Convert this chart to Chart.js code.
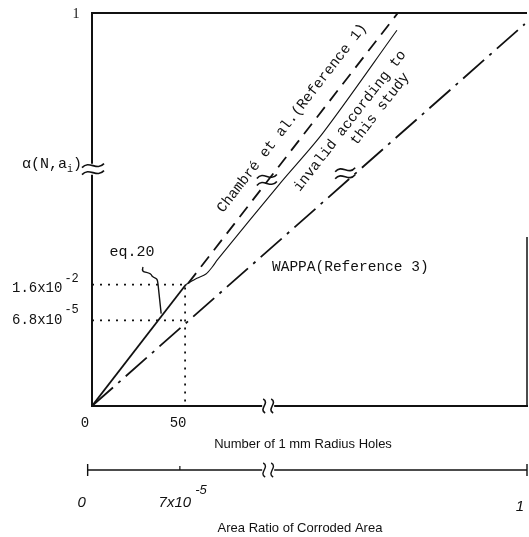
<!DOCTYPE html>
<html><head><meta charset="utf-8">
<script src="https://cdn.jsdelivr.net/npm/chart.js@4"></script>
<style>html,body{margin:0;padding:0;background:#fff}canvas{display:block}</style>
</head><body>
<canvas id="c" width="529" height="537"></canvas>
<script>
// Schematic (broken, not-to-scale) axes: each drawn axis runs 0..100.
const eq20X = [0, 21.6];
const eq20Y = [0, 30.9];
const studyX = [21.6, 24.1, 26.2, 27.6, 28.9, 43.2, 53.1, 70.1];
const studyY = [30.9, 32.5, 33.6, 35.3, 37.3, 56.6, 69.5, 95.6];
const chambreX = [22.1, 70.3];
const chambreY = [31.2, 100];
const wappaX = [0, 99.5];
const wappaY = [0, 97.2];
const guideX = 21.4;        // N = 50 holes
const guideYHigh = 30.9;    // 1.6x10^-2
const guideYLow = 21.8;     // 6.8x10^-5
const xTickPos = [0, 21.4];
const xTickLabels = ['0', '50'];
const yTickPos = [30.9, 21.8];
const yTickMant = ['1.6x10', '6.8x10'];
const yTickExp = ['-2', '-5'];
const ratioTickPos = [-1, 20.2, 100];
const ratioTickMant = ['0', '7x10', '1'];
const ratioTickExp = ['', '-5', ''];
const xBreak = 40.5;
const yBreak = 60.4;

const pts = (xs, ys) => xs.map((v, i) => ({x: v, y: ys[i]}));
const INK = '#111';

const deco = {
  id: 'deco',
  afterDatasetsDraw(chart) {
    const {ctx, scales: {x, y}} = chart;
    const X = v => x.getPixelForValue(v), Y = v => y.getPixelForValue(v);
    const seg = (a, b, c, d, w) => { ctx.lineWidth = w; ctx.beginPath(); ctx.moveTo(a, b); ctx.lineTo(c, d); ctx.stroke(); };
    const tilde = (cx, cy, w) => { ctx.beginPath(); ctx.moveTo(cx - w, cy + 2); ctx.bezierCurveTo(cx - w / 3, cy - 6, cx + w / 3, cy + 6, cx + w, cy - 2); ctx.stroke(); };
    const sCurve = (cx, cy, h) => { ctx.beginPath(); ctx.moveTo(cx - 1, cy - h); ctx.bezierCurveTo(cx + 6, cy - h / 2, cx - 6, cy + h / 2, cx + 1, cy + h); ctx.stroke(); };
    ctx.save();
    ctx.strokeStyle = INK; ctx.fillStyle = INK;
    const x0 = X(0), x1 = X(100), y0 = Y(0), y1 = Y(100);
    // frame
    seg(x0, y0 + 1, x0, Y(yBreak) + 6, 2);
    seg(x0, Y(yBreak) - 5, x0, y1 - 1, 2);
    seg(x0 - 1, y1, x1, y1, 2);
    seg(x0 - 1, y0, X(xBreak) - 6, y0, 2);
    seg(X(xBreak) + 6, y0, x1 + 1, y0, 2);
    seg(x1, y0, x1, Y(43), 1.5);
    ctx.lineWidth = 1.6;
    tilde(x0 + 1, Y(yBreak) - 3, 11); tilde(x0 + 1, Y(yBreak) + 4, 11);
    sCurve(X(xBreak) - 4, y0, 7); sCurve(X(xBreak) + 4, y0, 7);
    // break marks on the curves
    tilde(X(40.2), Y(57.4) - 4, 10); tilde(X(40.2), Y(57.4) + 3, 10);
    tilde(X(58.2), Y(59.1) - 4, 10); tilde(X(58.2), Y(59.1) + 3, 10);
    // eq.20 leader
    ctx.lineWidth = 1.4;
    ctx.beginPath();
    ctx.moveTo(143, 267);
    ctx.bezierCurveTo(140, 275, 150, 270, 152, 276);
    ctx.bezierCurveTo(156, 280, 157, 276, 158, 284);
    ctx.lineTo(X(15.9), Y(23.5));
    ctx.stroke();

    // second (area ratio) axis
    const ry = 470;
    seg(X(-1), ry, X(xBreak) - 6, ry, 1.6);
    seg(X(xBreak) + 6, ry, X(100), ry, 1.6);
    seg(X(-1), ry - 6, X(-1), ry + 6, 1.4);
    seg(X(100), ry - 6, X(100), ry + 6, 1.4);
    seg(X(20.2), ry - 4, X(20.2), ry, 1.2);
    ctx.lineWidth = 1.4;
    sCurve(X(xBreak) - 4, ry, 7); sCurve(X(xBreak) + 4, ry, 7);

    // texts
    ctx.textBaseline = 'middle';
    ctx.textAlign = 'center';
    ctx.font = '14px "Liberation Serif"';
    ctx.fillText('1', 76, 14);
    ctx.font = '14px "Liberation Mono"';
    xTickPos.forEach((v, i) => ctx.fillText(xTickLabels[i], X(v) - 7, 423));
    ctx.textAlign = 'left';
    yTickPos.forEach((v, i) => {
      const ty = Y(v) + (i === 0 ? 4 : 0);
      ctx.font = '14px "Liberation Mono"';
      ctx.fillText(yTickMant[i], 12, ty);
      const w = ctx.measureText(yTickMant[i]).width;
      ctx.font = '12px "Liberation Mono"';
      ctx.fillText(yTickExp[i], 12 + w + 2, ty - 10);
    });
    // alpha label at the y break
    ctx.font = '15px "Liberation Mono"';
    ctx.fillText('α(N,a', 22, 164);
    let w = ctx.measureText('α(N,a').width;
    ctx.font = '10px "Liberation Mono"';
    ctx.fillText('i', 22 + w, 169);
    ctx.font = '15px "Liberation Mono"';
    ctx.fillText(')', 22 + w + 6, 164);
    // eq.20
    ctx.textAlign = 'center';
    ctx.font = '15px "Liberation Mono"';
    ctx.fillText('eq.20', 132, 252);
    // WAPPA
    ctx.font = '14.5px "Liberation Mono"';
    ctx.textAlign = 'left';
    ctx.fillText('WAPPA(Reference 3)', 272, 267);
    // rotated labels
    const ang = Math.atan2(Y(chambreY[1]) - Y(chambreY[0]), X(chambreX[1]) - X(chambreX[0]));
    const rot = (t, cx, cy) => { ctx.save(); ctx.translate(cx, cy); ctx.rotate(ang); ctx.textAlign = 'center'; ctx.fillText(t, 0, 0); ctx.restore(); };
    rot('Chambré et al.(Reference 1)', 292, 118);
    rot('invalid according to', 350, 121);
    rot('this study', 380, 109);
    // axis titles
    ctx.textAlign = 'center';
    ctx.font = '13px "Liberation Sans"';
    ctx.fillText('Number of 1 mm Radius Holes', 303, 444);
    ctx.fillText('Area Ratio of Corroded Area', 300, 528);
    // ratio axis tick labels
    ctx.font = 'italic 15px "Liberation Sans"';
    const rOff = [-6, -5, -7];
    const rY = [503, 503, 507];
    ratioTickPos.forEach((v, i) => {
      ctx.textAlign = 'center';
      ctx.font = 'italic 15px "Liberation Sans"';
      const cx = X(v) + rOff[i];
      ctx.fillText(ratioTickMant[i], cx, rY[i]);
      if (ratioTickExp[i]) {
        const tw = ctx.measureText(ratioTickMant[i]).width;
        ctx.textAlign = 'left';
        ctx.font = 'italic 13px "Liberation Sans"';
        ctx.fillText(ratioTickExp[i], cx + tw / 2 + 4, rY[i] - 13);
      }
    });
    ctx.restore();
  }
};

const line = (data, extra) => Object.assign({
  data, showLine: true, pointRadius: 0, borderColor: INK, fill: false, tension: 0
}, extra);

new Chart(document.getElementById('c'), {
  type: 'scatter',
  data: {
    datasets: [
      line(pts([0, guideX, guideX], [guideYHigh, guideYHigh, 0]), {borderWidth: 1.8, borderDash: [2, 6]}),
      line(pts([0, guideX], [guideYLow, guideYLow]), {borderWidth: 1.8, borderDash: [2, 6]}),
      line(pts(eq20X, eq20Y), {borderWidth: 1.8}),
      line(pts(studyX, studyY), {borderWidth: 1.1, tension: 0.3}),
      line(pts(chambreX, chambreY), {borderWidth: 1.8, borderDash: [13, 8]}),
      line(pts(wappaX, wappaY), {borderWidth: 1.8, borderDash: [28, 7, 3, 7]})
    ]
  },
  options: {
    responsive: false,
    animation: false,
    layout: {padding: {left: 92, right: 2, top: 13, bottom: 131}},
    scales: {
      x: {type: 'linear', min: 0, max: 100, display: false},
      y: {type: 'linear', min: 0, max: 100, display: false}
    },
    plugins: {legend: {display: false}, tooltip: {enabled: false}}
  },
  plugins: [deco]
});
</script>
</body></html>
